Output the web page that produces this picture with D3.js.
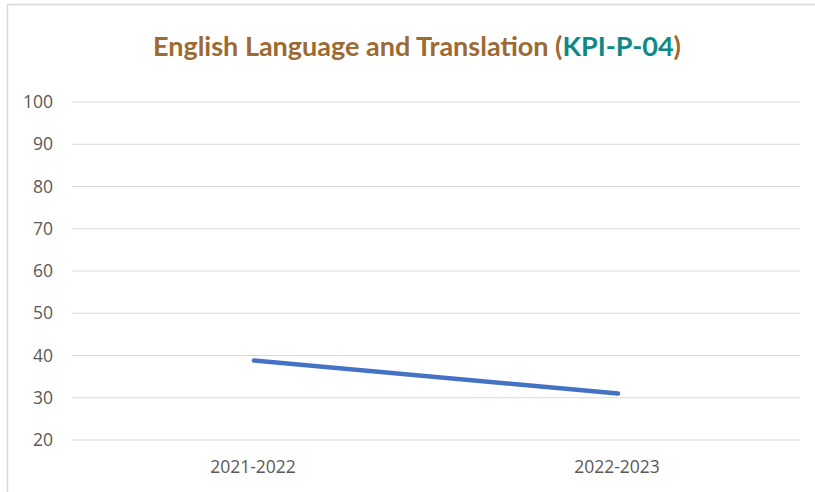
<!DOCTYPE html>
<html>
<head>
<meta charset="utf-8">
<script src="https://cdn.jsdelivr.net/npm/d3@7"></script>
<style>
  body { margin: 0; background: #fff; }
  svg { display: block; }
</style>
</head>
<body>
<svg id="chart" width="815" height="492"></svg>
<script>
var years = ["2021-2022", "2022-2023"]
var scores = [38.8, 31.0]
var yTicks = [20, 30, 40, 50, 60, 70, 80, 90, 100]

var svg = d3.select("#chart")
var plotLeft = 72, plotRight = 800, plotTop = 102, plotBottom = 440

// chart frame (only the top and left edges are visible in the source)
svg.append("path")
  .attr("d", "M7.5,492 L7.5,4.5 L815,4.5")
  .attr("fill", "none")
  .attr("stroke", "#d9d9d9")
  .attr("stroke-width", 1.5)

var x = d3.scaleBand()
  .domain(years)
  .range([plotLeft, plotRight])
var y = d3.scaleLinear()
  .domain([20, 100])
  .range([plotBottom, plotTop])

svg.append("g")
  .selectAll("line")
  .data(yTicks)
  .enter()
  .append("line")
  .attr("x1", plotLeft)
  .attr("x2", plotRight)
  .attr("y1", function(d) { return y(d) })
  .attr("y2", function(d) { return y(d) })
  .attr("stroke", "#d9d9d9")
  .attr("stroke-width", 1.2)

svg.append("g")
  .selectAll("text")
  .data(yTicks)
  .enter()
  .append("text")
  .attr("x", 53)
  .attr("y", function(d) { return y(d) })
  .attr("dy", "0.35em")
  .attr("text-anchor", "end")
  .attr("font-family", "Open Sans, sans-serif")
  .attr("font-size", "17.5px")
  .attr("fill", "#595959")
  .text(function(d) { return d })

svg.append("g")
  .selectAll("text")
  .data(years)
  .enter()
  .append("text")
  .attr("x", function(d) { return x(d) + x.bandwidth() / 2 - 1 })
  .attr("y", 473)
  .attr("text-anchor", "middle")
  .attr("font-family", "Open Sans, sans-serif")
  .attr("font-size", "17.5px")
  .attr("fill", "#595959")
  .text(function(d) { return d })

var line = d3.line()
  .x(function(d, i) { return x(years[i]) + x.bandwidth() / 2 })
  .y(function(d) { return y(d) })

svg.append("path")
  .datum(scores)
  .attr("d", line)
  .attr("fill", "none")
  .attr("stroke", "#4472c4")
  .attr("stroke-width", 4.5)
  .attr("stroke-linecap", "round")

var title = svg.append("text")
  .attr("x", 417)
  .attr("y", 56)
  .attr("text-anchor", "middle")
  .attr("font-family", "Lato, sans-serif")
  .attr("font-weight", "bold")
  .attr("font-size", "27px")
  .attr("fill", "#9c6a32")
title.append("tspan").text("English Language and Translation (")
title.append("tspan").attr("fill", "#0d8a86").text("KPI-P-04")
title.append("tspan").text(")")
</script>
</body>
</html>
